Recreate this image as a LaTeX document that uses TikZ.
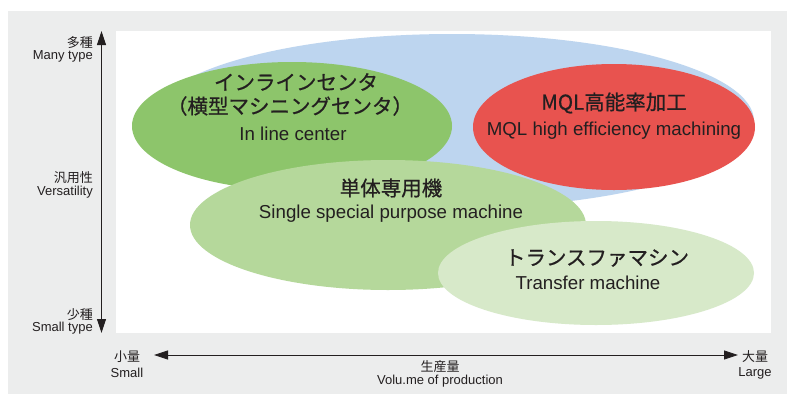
\documentclass[tikz,border=0pt]{standalone}
\usepackage{fontspec}
\setmainfont{Liberation Sans}
\newfontfamily\jp{Noto Sans CJK JP}
\newfontfamily\jpheavy[FakeBold=0.7]{Noto Sans CJK JP}
\usetikzlibrary{arrows.meta}
\definecolor{panelgray}{RGB}{236,237,237}
\definecolor{skyblue}{RGB}{189,213,239}
\definecolor{leafgreen}{RGB}{141,197,107}
\definecolor{mqlred}{RGB}{232,83,79}
\definecolor{softgreen}{RGB}{181,216,155}
\definecolor{palegreen}{RGB}{215,233,201}
\definecolor{ink}{RGB}{35,31,32}
\tikzset{
  jptitle/.style={text=ink, font=\jpheavy\fontsize{20.5}{22}\selectfont, inner sep=0pt},
  entitle/.style={text=ink, font=\fontsize{18.7}{20}\selectfont, inner sep=0pt},
  axjp/.style={text=ink, font=\jp\fontsize{13}{14}\selectfont, inner sep=0pt},
  axen/.style={text=ink, font=\fontsize{13}{14}\selectfont, inner sep=0pt},
  axisarrow/.style={draw=ink, line width=0.8pt, {Triangle[length=14pt,width=9pt]}-{Triangle[length=14pt,width=9pt]}}
}
\begin{document}
\begin{tikzpicture}[x=1pt,y=-1pt]
\useasboundingbox (0,0) rectangle (787,394);
\fill[white] (0,0) rectangle (787,394);
\fill[panelgray] (8,11) rectangle (787,394);
\fill[white] (116,31) rectangle (771,333);
% ellipses
\fill[skyblue] (452,121) ellipse [x radius=302, y radius=87];
\fill[leafgreen] (292,126) ellipse [x radius=160, y radius=64];
\fill[mqlred] (614,127) ellipse [x radius=141, y radius=63];
\fill[softgreen] (388,225) ellipse [x radius=198, y radius=65];
\fill[palegreen] (596,273) ellipse [x radius=158, y radius=52];
% ellipse texts
\node[jptitle] (inl1) at (296,82) {インラインセンタ};
\node[jptitle] (inl2) at (290,106) {（横型マシニングセンタ）};
\node[entitle] (inl3) at (293,134) {In line center};
\node[jptitle] (mql1) at (614,103) {MQL高能率加工};
\node[entitle] (mql2) at (614,131) {MQL high efficiency machining};
\node[jptitle] (sg1) at (391,188) {単体専用機};
\node[entitle] (sg2) at (391,214) {Single special purpose machine};
\node[jptitle] (tr1) at (597,258) {トランスファマシン};
\node[entitle] (tr2) at (588,283) {Transfer machine};
% vertical axis
\coordinate (vtop) at (101.5,31);
\coordinate (vbot) at (101.5,333);
\draw[axisarrow] (vbot) -- (vtop);
\node[axjp, anchor=east] (many1) at (93,43) {多種};
\node[axen, anchor=east] (many2) at (93,56) {Many type};
\node[axjp, anchor=east] (vers1) at (93,178) {汎用性};
\node[axen, anchor=east] (vers2) at (93,192) {Versatility};
\node[axjp, anchor=east] (few1) at (93,315) {少種};
\node[axen, anchor=east] (few2) at (93,328) {Small type};
% horizontal axis
\coordinate (hleft) at (154,355);
\coordinate (hright) at (738,355);
\draw[axisarrow] (hleft) -- (hright);
\node[axjp] (small1) at (127,357) {小量};
\node[axen] (small2) at (127,373) {Small};
\node[axjp] (vol1) at (440,367) {生産量};
\node[axen] (vol2) at (440,381) {Volu.me of production};
\node[axjp] (large1) at (755,357) {大量};
\node[axen] (large2) at (755,373) {Large};
\end{tikzpicture}
\end{document}
